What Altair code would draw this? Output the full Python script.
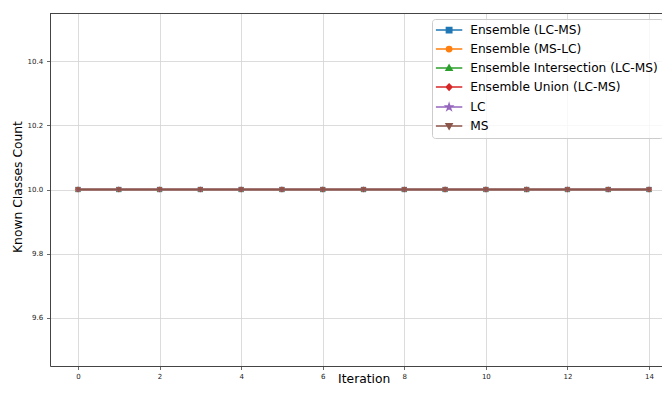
import altair as alt
import pandas as pd

# ---- data ----
iterations = [0, 1, 2, 3, 4, 5, 6, 7, 8, 9, 10, 11, 12, 13, 14]
series_names = [
    "Ensemble (LC-MS)",
    "Ensemble (MS-LC)",
    "Ensemble Intersection (LC-MS)",
    "Ensemble Union (LC-MS)",
    "LC",
    "MS",
]
ens_lc_ms = [10, 10, 10, 10, 10, 10, 10, 10, 10, 10, 10, 10, 10, 10, 10]
ens_ms_lc = [10, 10, 10, 10, 10, 10, 10, 10, 10, 10, 10, 10, 10, 10, 10]
ens_inter = [10, 10, 10, 10, 10, 10, 10, 10, 10, 10, 10, 10, 10, 10, 10]
ens_union = [10, 10, 10, 10, 10, 10, 10, 10, 10, 10, 10, 10, 10, 10, 10]
lc_vals = [10, 10, 10, 10, 10, 10, 10, 10, 10, 10, 10, 10, 10, 10, 10]
ms_vals = [10, 10, 10, 10, 10, 10, 10, 10, 10, 10, 10, 10, 10, 10, 10]
series_values = [ens_lc_ms, ens_ms_lc, ens_inter, ens_union, lc_vals, ms_vals]

x_ticks = [0, 2, 4, 6, 8, 10, 12, 14]
y_ticks = [9.6, 9.8, 10.0, 10.2, 10.4]
# the right part of the reference plot is cut off by the picture's edge
x_domain = [-0.6865, 14.3185]
y_domain = [9.45, 10.55]

rows = []
for name, vals in zip(series_names, series_values):
    for it, v in zip(iterations, vals):
        rows.append({"iteration": it, "series": name, "value": v})
df = pd.DataFrame(rows)

# ---- styles ----
colors = ["#1f77b4", "#ff7f0e", "#2ca02c", "#d62728", "#9467bd", "#8c564b"]
STAR = ("M0,-1L0.223,-0.307L0.951,-0.309L0.361,0.117L0.588,0.809L0,0.38"
        "L-0.588,0.809L-0.361,0.117L-0.951,-0.309L-0.223,-0.307Z")
plot_shapes = ["square", "circle", "triangle-up", "diamond", STAR, "triangle-down"]
plot_sizes = [28, 30, 30, 30, 44, 30]

LINE = "M-4.4,0H4.4"
legend_paths = [
    LINE + "M-0.9,-0.9H0.9V0.9H-0.9Z",
    LINE + "M-0.9,0A0.9,0.9 0 1,0 0.9,0A0.9,0.9 0 1,0 -0.9,0Z",
    LINE + "M0,-1L1,0.75H-1Z",
    LINE + "M0,-1L0.95,0L0,1L-0.95,0Z",
    LINE + "M0,-1.1L0.245,-0.338L1.046,-0.34L0.397,0.129L0.647,0.89L0,0.418"
           "L-0.647,0.89L-0.397,0.129L-1.046,-0.34L-0.245,-0.338Z",
    LINE + "M0,1L1,-0.75H-1Z",
]

FONT = "DejaVu Sans"
AX = "#444444"
GRID = "#d3d3d3"

xs = alt.Scale(domain=x_domain, nice=False, zero=False)
ys = alt.Scale(domain=y_domain, nice=False, zero=False)

x_axis = alt.Axis(
    orient="bottom", values=x_ticks, format="d", title="Iteration",
    grid=True, gridColor=GRID, gridWidth=0.8,
    domainColor=AX, tickColor=AX, tickSize=3.5, tickWidth=0.8,
    labelFont=FONT, labelFontSize=7, labelColor="#222222", labelPadding=2.5,
    labelFlush=False,
    titleFont=FONT, titleFontSize=12.3, titleFontWeight="normal",
    titleColor="#000000", titleX=313.7, titleY=16.8,
    titleBaseline="alphabetic", titleAlign="center",
)
y_axis = alt.Axis(
    orient="left", values=y_ticks, format=".1f", title="Known Classes Count",
    grid=True, gridColor=GRID, gridWidth=0.8,
    domainColor=AX, tickColor=AX, tickSize=3.5, tickWidth=0.8,
    labelFont=FONT, labelFontSize=7, labelColor="#222222", labelPadding=3.8,
    labelFlush=False,
    titleFont=FONT, titleFontSize=12.3, titleFontWeight="normal",
    titleColor="#000000", titleX=-28.5, titleY=173.5,
    titleBaseline="alphabetic", titleAlign="center",
)

X = alt.X("iteration:Q", scale=xs, axis=x_axis)
Y = alt.Y("value:Q", scale=ys, axis=y_axis)

legend = alt.Legend(
    title=None, orient="none", legendX=382, legendY=6, padding=5,
    symbolSize=36, symbolStrokeWidth=1.5, symbolOffset=6, labelOffset=15,
    labelFont=FONT, labelFontSize=12.2, labelColor="#000000", labelLimit=400,
    rowPadding=6, strokeColor="#cccccc", fillColor="rgba(255,255,255,0.8)",
    cornerRadius=3, symbolOpacity=1,
)

layers = []
for i, name in enumerate(series_names):
    base = alt.Chart().transform_filter(alt.datum.series == name)
    layers.append(base.mark_line(color=colors[i], strokeWidth=1.5).encode(x=X, y=Y))
    layers.append(
        base.mark_point(shape=plot_shapes[i], filled=True, size=plot_sizes[i],
                        color=colors[i], opacity=1).encode(x=X, y=Y)
    )

# top spine of the frame, placed through the y scale at the domain's upper end
top_spine = alt.Chart().mark_rule(color=AX, strokeWidth=1, yOffset=0.5).encode(
    y=alt.Y(datum=y_domain[1], type="quantitative", scale=ys, axis=y_axis)
)

legend_layer = (
    alt.Chart()
    .transform_filter("datum.iteration < 0")
    .mark_point(filled=True, opacity=1)
    .encode(
        x=X,
        y=Y,
        fill=alt.Fill("series:N", scale=alt.Scale(domain=series_names, range=colors), legend=legend),
        stroke=alt.Stroke("series:N", scale=alt.Scale(domain=series_names, range=colors), legend=legend),
        shape=alt.Shape("series:N", scale=alt.Scale(domain=series_names, range=legend_paths), legend=legend),
    )
)

chart = (
    alt.layer(*layers, top_spine, legend_layer, data=df)
    .properties(
        width=612, height=353,
        padding={"left": 42, "top": 5, "right": 0, "bottom": 20},
        autosize=alt.AutoSizeParams(type="none"),
        background="white",
    )
    .configure_view(stroke=None)
)

chart.save("out.html", embed_options={"renderer": "svg", "actions": False})
